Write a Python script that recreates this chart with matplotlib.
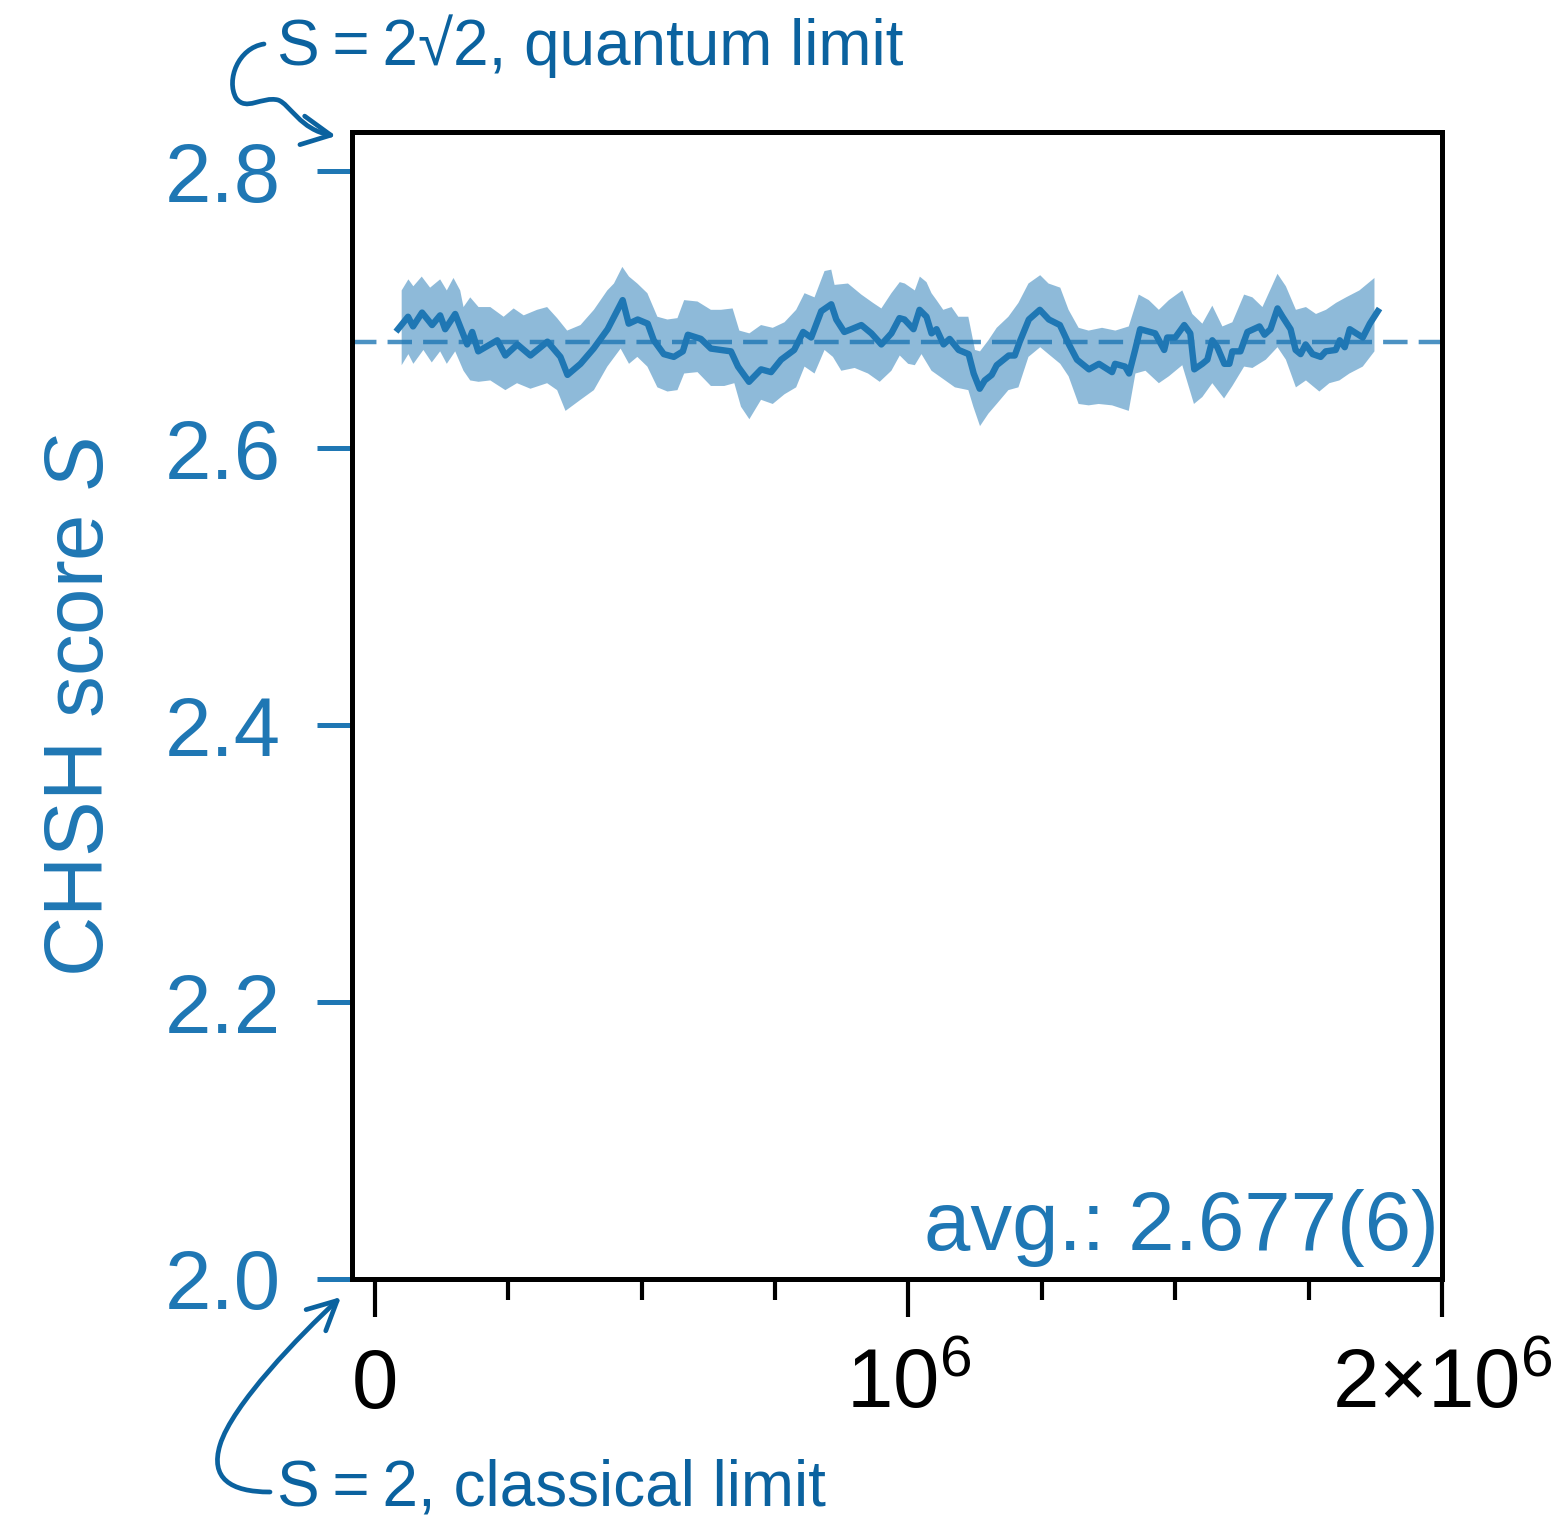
import numpy as np
import matplotlib
matplotlib.use("Agg")
import matplotlib.pyplot as plt
from matplotlib.path import Path
from matplotlib.patches import FancyArrowPatch
from matplotlib.ticker import FixedLocator, FixedFormatter, MultipleLocator

plt.rcParams['font.family'] = ['Liberation Sans', 'DejaVu Sans']
plt.rcParams['mathtext.fontset'] = 'custom'
plt.rcParams['mathtext.rm'] = 'Liberation Sans'
plt.rcParams['mathtext.it'] = 'Liberation Sans:italic'

# rolling CHSH score (trial index in units of 1e6, S)
trials = np.array([
    0.0432, 0.0620, 0.0714, 0.0883, 0.1071, 0.1222, 0.1316, 0.1504, 0.1729, 0.1823,
    0.1936, 0.2293, 0.2444, 0.2669, 0.2914, 0.3233, 0.3477, 0.3609, 0.3853, 0.4098,
    0.4361, 0.4643, 0.4756, 0.4925, 0.5113, 0.5226, 0.5414, 0.5602, 0.5771, 0.5865,
    0.6109, 0.6297, 0.6485, 0.6673, 0.6805, 0.7011, 0.7237, 0.7425, 0.7613, 0.7857,
    0.8026, 0.8177, 0.8365, 0.8553, 0.8647, 0.8797, 0.8929, 0.9117, 0.9305, 0.9492,
    0.9680, 0.9831, 0.9925, 1.0094, 1.0207, 1.0338, 1.0432, 1.0526, 1.0658, 1.0771,
    1.0940, 1.1128, 1.1222, 1.1335, 1.1429, 1.1560, 1.1654, 1.1880, 1.1992, 1.2086,
    1.2256, 1.2462, 1.2632, 1.2838, 1.3008, 1.3158, 1.3383, 1.3571, 1.3816, 1.3872,
    1.4060, 1.4135, 1.4248, 1.4342, 1.4624, 1.4793, 1.4850, 1.5000, 1.5169, 1.5282,
    1.5357, 1.5508, 1.5602, 1.5695, 1.5789, 1.5921, 1.6015, 1.6071, 1.6222, 1.6353,
    1.6579, 1.6673, 1.6786, 1.6917, 1.7011, 1.7162, 1.7256, 1.7350, 1.7444, 1.7575,
    1.7726, 1.7820, 1.8008, 1.8083, 1.8177, 1.8271, 1.8515, 1.8647, 1.8797]) * 1e6

score = np.array([
    2.686, 2.695, 2.688, 2.698, 2.689, 2.696, 2.686, 2.697, 2.675, 2.684,
    2.670, 2.678, 2.667, 2.675, 2.667, 2.677, 2.666, 2.653, 2.661, 2.672,
    2.686, 2.707, 2.690, 2.693, 2.690, 2.678, 2.668, 2.666, 2.670, 2.682,
    2.679, 2.672, 2.671, 2.670, 2.659, 2.648, 2.657, 2.655, 2.664, 2.671,
    2.684, 2.680, 2.699, 2.704, 2.693, 2.684, 2.686, 2.689, 2.683, 2.675,
    2.683, 2.694, 2.693, 2.686, 2.700, 2.695, 2.683, 2.686, 2.675, 2.679,
    2.671, 2.668, 2.654, 2.643, 2.649, 2.653, 2.660, 2.667, 2.667, 2.677,
    2.693, 2.700, 2.693, 2.689, 2.675, 2.664, 2.657, 2.661, 2.655, 2.661,
    2.659, 2.654, 2.671, 2.686, 2.683, 2.671, 2.680, 2.680, 2.689, 2.683,
    2.657, 2.661, 2.664, 2.678, 2.673, 2.661, 2.661, 2.670, 2.670, 2.684,
    2.688, 2.682, 2.686, 2.701, 2.695, 2.686, 2.671, 2.668, 2.675, 2.668,
    2.666, 2.670, 2.671, 2.678, 2.673, 2.686, 2.680, 2.690, 2.699])

# uncertainty band edges (read separately, own x grids)
upper_x = np.array([
    0.0501, 0.0627, 0.0720, 0.0877, 0.1034, 0.1222, 0.1347, 0.1472, 0.1598, 0.1660,
    0.1786, 0.1942, 0.2162, 0.2412, 0.2600, 0.2788, 0.3039, 0.3227, 0.3415, 0.3603,
    0.3853, 0.4104, 0.4355, 0.4480, 0.4637, 0.4762, 0.4918, 0.5106, 0.5294, 0.5482,
    0.5670, 0.5796, 0.6046, 0.6297, 0.6485, 0.6704, 0.6830, 0.7018, 0.7237, 0.7456,
    0.7676, 0.7895, 0.8052, 0.8239, 0.8427, 0.8553, 0.8615, 0.8866, 0.9117, 0.9336,
    0.9492, 0.9680, 0.9837, 0.9931, 1.0119, 1.0213, 1.0338, 1.0432, 1.0526, 1.0652,
    1.0808, 1.0934, 1.1122, 1.1247, 1.1341, 1.1498, 1.1654, 1.1873, 1.2061, 1.2249,
    1.2469, 1.2625, 1.2845, 1.3001, 1.3189, 1.3377, 1.3628, 1.3878, 1.4129, 1.4317,
    1.4505, 1.4693, 1.4881, 1.5132, 1.5320, 1.5508, 1.5695, 1.5884, 1.6071, 1.6291,
    1.6447, 1.6635, 1.6917, 1.7074, 1.7262, 1.7450, 1.7638, 1.7826, 1.8014, 1.8202,
    1.8452, 1.8734]) * 1e6
upper_y = np.array([
    2.714, 2.722, 2.717, 2.724, 2.716, 2.722, 2.714, 2.723, 2.714, 2.702,
    2.709, 2.702, 2.702, 2.695, 2.701, 2.696, 2.700, 2.702, 2.694, 2.685,
    2.689, 2.700, 2.714, 2.719, 2.731, 2.724, 2.719, 2.712, 2.695, 2.693,
    2.694, 2.707, 2.706, 2.700, 2.700, 2.701, 2.685, 2.683, 2.689, 2.687,
    2.691, 2.700, 2.712, 2.709, 2.728, 2.729, 2.718, 2.719, 2.711, 2.705,
    2.701, 2.712, 2.720, 2.719, 2.714, 2.724, 2.720, 2.712, 2.707, 2.700,
    2.702, 2.695, 2.695, 2.671, 2.670, 2.678, 2.687, 2.695, 2.705, 2.719,
    2.725, 2.719, 2.716, 2.700, 2.687, 2.685, 2.687, 2.685, 2.688, 2.711,
    2.707, 2.700, 2.707, 2.714, 2.697, 2.690, 2.703, 2.688, 2.691, 2.711,
    2.709, 2.702, 2.726, 2.717, 2.700, 2.702, 2.697, 2.700, 2.705, 2.709,
    2.714, 2.723])
lower_x = np.array([
    0.0501, 0.0627, 0.0720, 0.0908, 0.1065, 0.1222, 0.1347, 0.1504, 0.1660, 0.1786,
    0.1942, 0.2162, 0.2444, 0.2663, 0.2914, 0.3227, 0.3415, 0.3572, 0.3853, 0.4104,
    0.4355, 0.4605, 0.4762, 0.4918, 0.5106, 0.5294, 0.5482, 0.5670, 0.5796, 0.6046,
    0.6297, 0.6548, 0.6736, 0.6861, 0.7018, 0.7237, 0.7456, 0.7676, 0.7895, 0.8052,
    0.8239, 0.8427, 0.8584, 0.8741, 0.8991, 0.9242, 0.9461, 0.9680, 0.9837, 0.9994,
    1.0119, 1.0244, 1.0432, 1.0652, 1.0871, 1.1122, 1.1216, 1.1341, 1.1498, 1.1654,
    1.1873, 1.2061, 1.2249, 1.2469, 1.2625, 1.2845, 1.3001, 1.3189, 1.3377, 1.3565,
    1.3816, 1.4129, 1.4254, 1.4442, 1.4693, 1.4881, 1.5132, 1.5351, 1.5508, 1.5695,
    1.5915, 1.6071, 1.6291, 1.6447, 1.6698, 1.6917, 1.7074, 1.7262, 1.7450, 1.7701,
    1.7889, 1.8077, 1.8265, 1.8515, 1.8734]) * 1e6
lower_y = np.array([
    2.660, 2.668, 2.661, 2.671, 2.662, 2.670, 2.661, 2.670, 2.656, 2.649,
    2.648, 2.649, 2.642, 2.647, 2.643, 2.647, 2.642, 2.627, 2.635, 2.642,
    2.659, 2.672, 2.661, 2.666, 2.659, 2.644, 2.641, 2.642, 2.654, 2.655,
    2.645, 2.645, 2.647, 2.630, 2.621, 2.635, 2.632, 2.639, 2.644, 2.659,
    2.654, 2.671, 2.666, 2.656, 2.658, 2.654, 2.648, 2.656, 2.667, 2.661,
    2.660, 2.668, 2.656, 2.650, 2.644, 2.642, 2.630, 2.616, 2.625, 2.632,
    2.642, 2.644, 2.666, 2.673, 2.668, 2.661, 2.652, 2.632, 2.631, 2.632,
    2.631, 2.627, 2.654, 2.656, 2.647, 2.652, 2.660, 2.632, 2.637, 2.647,
    2.636, 2.645, 2.659, 2.658, 2.664, 2.673, 2.664, 2.644, 2.649, 2.641,
    2.647, 2.649, 2.654, 2.659, 2.670])

avg_score = 2.677
avg_label = "avg.: 2.677(6)"

xticks = [0, 1e6, 2e6]
xticklabels = ["0", r"$10^6$", r"$2{\times}10^6$"]
yticks = [2.0, 2.2, 2.4, 2.6, 2.8]

blue = "#1f77b4"
dark_blue = "#0b629f"

W, H = 1563, 1524
fig = plt.figure(figsize=(W / 200, H / 200), dpi=200)
ax = fig.add_axes([352 / W, 1 - 1279 / H, (1442 - 352) / W, (1279 - 132) / H])

ax.fill(np.r_[upper_x, lower_x[::-1]], np.r_[upper_y, lower_y[::-1]],
        color=blue, alpha=0.5, lw=0)
ax.plot(trials, score, color=blue, lw=2.3, solid_joinstyle='round')
ax.axhline(avg_score, color=blue, alpha=0.8, lw=1.6, dashes=[5.5, 2.5])

ax.set_xlim(-0.043e6, 2e6)
ax.set_ylim(2.0, 2 * np.sqrt(2))

ax.xaxis.set_major_locator(FixedLocator(xticks))
ax.xaxis.set_major_formatter(FixedFormatter(xticklabels))
ax.xaxis.set_minor_locator(MultipleLocator(0.25e6))
ax.set_yticks(yticks)
ax.set_yticklabels([f"{v:.1f}" for v in yticks])

ax.tick_params(axis='x', which='major', length=13.5, width=1.5, pad=11,
               labelsize=30, colors='black')
ax.tick_params(axis='x', which='minor', length=7.5, width=1.5)
ax.tick_params(axis='y', which='major', length=12.6, width=1.8, pad=13,
               labelsize=30, colors=blue)
for s in ax.spines.values():
    s.set_linewidth(1.8)
    s.set_color('black')

ax.set_ylabel(r"CHSH score $S$", fontsize=30, color=blue)
ax.yaxis.set_label_coords(-0.213, 0.5)

ax.text(0.997, 0.025, avg_label, transform=ax.transAxes, ha='right', va='baseline',
        fontsize=30, color=blue)

# limit annotations with hand-drawn style arrows (figure pixel coords, top-left origin)
def fpt(x, y):
    return (x / W, 1 - y / H)

fig.text(*fpt(277, 65), "S\u2009=\u20092\u221a2, quantum limit", fontsize=23,
         color=dark_blue, ha='left', va='baseline')
fig.text(*fpt(277, 1506), "S\u2009=\u20092, classical limit", fontsize=23,
         color=dark_blue, ha='left', va='baseline')

C = Path.CURVE4
top_pts = [(264, 44), (238, 48), (226, 80), (236, 98),
           (246, 112), (262, 96), (278, 100),
           (290, 104), (300, 130), (336, 136)]
top_codes = [Path.MOVETO] + [C] * 9
bot_pts = [(270, 1492), (230, 1492), (210, 1478), (220, 1445),
           (232, 1405), (300, 1335), (341, 1297)]
bot_codes = [Path.MOVETO] + [C] * 6

for pts, codes in [(top_pts, top_codes), (bot_pts, bot_codes)]:
    path = Path([fpt(*p) for p in pts], codes)
    arr = FancyArrowPatch(path=path, arrowstyle='->', mutation_scale=26,
                          color=dark_blue, lw=1.7, transform=fig.transFigure)
    fig.patches.append(arr)

fig.savefig("out.png", dpi=200)
